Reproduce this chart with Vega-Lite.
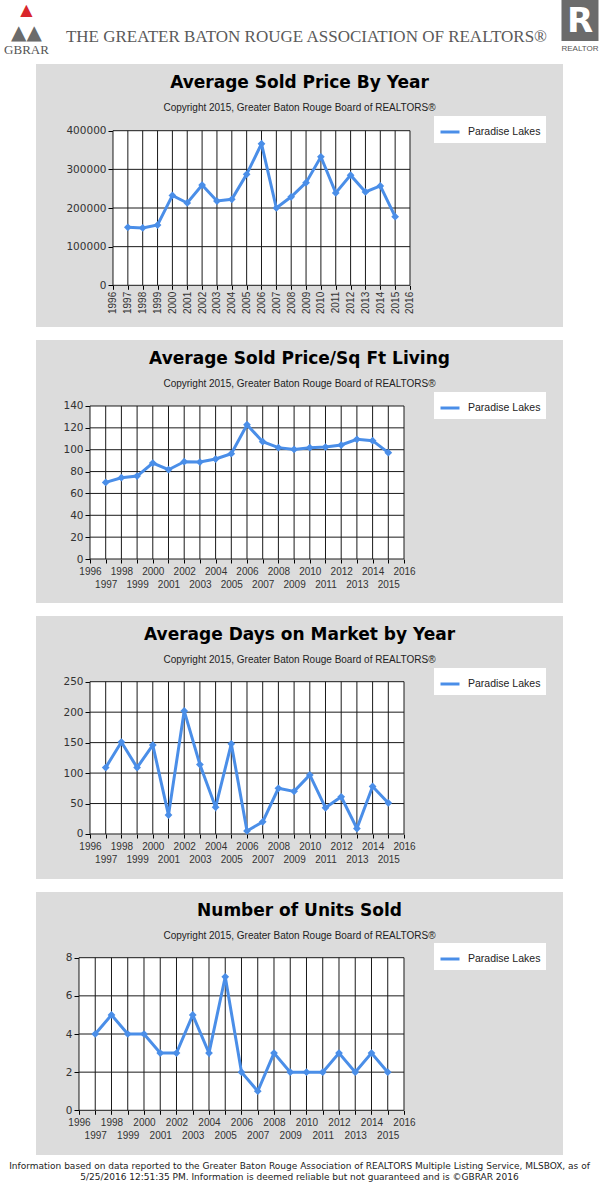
{
  "$schema": "https://vega.github.io/schema/vega-lite/v6.json",
  "padding": 0,
  "background": "#ffffff",
  "spacing": 7,
  "center": true,
  "datasets": {
    "years": [{"year":1996},{"year":1997},{"year":1998},{"year":1999},{"year":2000},{"year":2001},{"year":2002},{"year":2003},{"year":2004},{"year":2005},{"year":2006},{"year":2007},{"year":2008},{"year":2009},{"year":2010},{"year":2011},{"year":2012},{"year":2013},{"year":2014},{"year":2015},{"year":2016}],
    "price": [
      {"year":1997,"value":150000,"area":"Paradise Lakes"},{"year":1998,"value":148500,"area":"Paradise Lakes"},{"year":1999,"value":156000,"area":"Paradise Lakes"},{"year":2000,"value":232500,"area":"Paradise Lakes"},{"year":2001,"value":213000,"area":"Paradise Lakes"},{"year":2002,"value":259500,"area":"Paradise Lakes"},{"year":2003,"value":218000,"area":"Paradise Lakes"},{"year":2004,"value":222500,"area":"Paradise Lakes"},{"year":2005,"value":287000,"area":"Paradise Lakes"},{"year":2006,"value":366000,"area":"Paradise Lakes"},{"year":2007,"value":200000,"area":"Paradise Lakes"},{"year":2008,"value":229000,"area":"Paradise Lakes"},{"year":2009,"value":265500,"area":"Paradise Lakes"},{"year":2010,"value":332500,"area":"Paradise Lakes"},{"year":2011,"value":239000,"area":"Paradise Lakes"},{"year":2012,"value":285000,"area":"Paradise Lakes"},{"year":2013,"value":241500,"area":"Paradise Lakes"},{"year":2014,"value":257000,"area":"Paradise Lakes"},{"year":2015,"value":177500,"area":"Paradise Lakes"}],
    "ppsf": [
      {"year":1997,"value":70.1,"area":"Paradise Lakes"},{"year":1998,"value":74.4,"area":"Paradise Lakes"},{"year":1999,"value":75.9,"area":"Paradise Lakes"},{"year":2000,"value":87.8,"area":"Paradise Lakes"},{"year":2001,"value":81.7,"area":"Paradise Lakes"},{"year":2002,"value":89.0,"area":"Paradise Lakes"},{"year":2003,"value":88.7,"area":"Paradise Lakes"},{"year":2004,"value":91.5,"area":"Paradise Lakes"},{"year":2005,"value":96.4,"area":"Paradise Lakes"},{"year":2006,"value":122.9,"area":"Paradise Lakes"},{"year":2007,"value":107.3,"area":"Paradise Lakes"},{"year":2008,"value":101.9,"area":"Paradise Lakes"},{"year":2009,"value":100.3,"area":"Paradise Lakes"},{"year":2010,"value":101.9,"area":"Paradise Lakes"},{"year":2011,"value":102.4,"area":"Paradise Lakes"},{"year":2012,"value":104.3,"area":"Paradise Lakes"},{"year":2013,"value":109.5,"area":"Paradise Lakes"},{"year":2014,"value":108.3,"area":"Paradise Lakes"},{"year":2015,"value":97.3,"area":"Paradise Lakes"}],
    "dom": [
      {"year":1997,"value":109,"area":"Paradise Lakes"},{"year":1998,"value":151,"area":"Paradise Lakes"},{"year":1999,"value":109,"area":"Paradise Lakes"},{"year":2000,"value":146,"area":"Paradise Lakes"},{"year":2001,"value":31,"area":"Paradise Lakes"},{"year":2002,"value":202,"area":"Paradise Lakes"},{"year":2003,"value":114,"area":"Paradise Lakes"},{"year":2004,"value":44,"area":"Paradise Lakes"},{"year":2005,"value":148,"area":"Paradise Lakes"},{"year":2006,"value":5,"area":"Paradise Lakes"},{"year":2007,"value":20,"area":"Paradise Lakes"},{"year":2008,"value":75,"area":"Paradise Lakes"},{"year":2009,"value":70,"area":"Paradise Lakes"},{"year":2010,"value":97,"area":"Paradise Lakes"},{"year":2011,"value":43,"area":"Paradise Lakes"},{"year":2012,"value":61,"area":"Paradise Lakes"},{"year":2013,"value":9,"area":"Paradise Lakes"},{"year":2014,"value":78,"area":"Paradise Lakes"},{"year":2015,"value":51,"area":"Paradise Lakes"}],
    "units": [
      {"year":1997,"value":4,"area":"Paradise Lakes"},{"year":1998,"value":5,"area":"Paradise Lakes"},{"year":1999,"value":4,"area":"Paradise Lakes"},{"year":2000,"value":4,"area":"Paradise Lakes"},{"year":2001,"value":3,"area":"Paradise Lakes"},{"year":2002,"value":3,"area":"Paradise Lakes"},{"year":2003,"value":5,"area":"Paradise Lakes"},{"year":2004,"value":3,"area":"Paradise Lakes"},{"year":2005,"value":7,"area":"Paradise Lakes"},{"year":2006,"value":2,"area":"Paradise Lakes"},{"year":2007,"value":1,"area":"Paradise Lakes"},{"year":2008,"value":3,"area":"Paradise Lakes"},{"year":2009,"value":2,"area":"Paradise Lakes"},{"year":2010,"value":2,"area":"Paradise Lakes"},{"year":2011,"value":2,"area":"Paradise Lakes"},{"year":2012,"value":3,"area":"Paradise Lakes"},{"year":2013,"value":2,"area":"Paradise Lakes"},{"year":2014,"value":3,"area":"Paradise Lakes"},{"year":2015,"value":2,"area":"Paradise Lakes"}],
    "g_price": [{"v":0},{"v":100000},{"v":200000},{"v":300000},{"v":400000}],
    "g_ppsf": [{"v":0},{"v":20},{"v":40},{"v":60},{"v":80},{"v":100},{"v":120},{"v":140}],
    "g_dom": [{"v":0},{"v":50},{"v":100},{"v":150},{"v":200},{"v":250}],
    "g_units": [{"v":0},{"v":2},{"v":4},{"v":6},{"v":8}]
  },
  "vconcat": [
    {
      "hconcat": [
        {
          "width": 52, "height": 57,
          "layer": [
            {"data": {"values": [{"t": "▲"}]}, "mark": {"type": "text", "font": "DejaVu Sans", "fontSize": 16, "color": "#d9262b", "dy": -18.5}, "encoding": {"text": {"field": "t"}}},
            {"data": {"values": [{"t": "▲▲"}]}, "mark": {"type": "text", "font": "DejaVu Sans", "fontSize": 20, "color": "#6b6b6b", "dy": 4}, "encoding": {"text": {"field": "t"}}},
            {"data": {"values": [{"t": "GBRAR"}]}, "mark": {"type": "text", "font": "Liberation Serif", "fontSize": 13, "color": "#555555", "dy": 21.5}, "encoding": {"text": {"field": "t"}}}
          ]
        },
        {
          "width": 500, "height": 57,
          "data": {"values": [{"t": "THE GREATER BATON ROUGE ASSOCIATION OF REALTORS®"}]},
          "mark": {"type": "text", "font": "Liberation Serif", "fontSize": 17, "color": "#5a5a5a", "dy": 8},
          "encoding": {"text": {"field": "t"}}
        },
        {
          "width": 37, "height": 41,
          "view": {"fill": "#6b6b6b", "stroke": null},
          "title": {"text": "REALTOR", "orient": "bottom", "font": "Liberation Sans", "fontSize": 8, "fontWeight": "normal", "color": "#555555", "offset": 4},
          "data": {"values": [{"t": "R"}]},
          "mark": {"type": "text", "font": "DejaVu Sans", "fontWeight": "bold", "fontSize": 34, "color": "#ffffff", "dy": 1},
          "encoding": {"text": {"field": "t"}}
        }
      ],
      "spacing": 4
    },
    {
      "spacing": 13,
      "center": true,
      "resolve": {"scale": {"color": "independent"}, "legend": {"color": "independent"}},
      "vconcat": [
        {
          "width": 527, "height": 263,
          "view": {"fill": "#dcdcdc", "stroke": null},
          "title": {"text": "Average Sold Price By Year", "subtitle": "Copyright 2015, Greater Baton Rouge Board of REALTORS®"},
          "layer": [
            {"data": {"values": [{}]}, "mark": {"type": "rect", "fill": "#ffffff"},
             "encoding": {
               "x": {"datum": 1996, "type": "quantitative", "scale": {"domain": [1990.815, 2026.303], "nice": false, "zero": false},
                     "axis": {"title": null, "values": [1996,1997,1998,1999,2000,2001,2002,2003,2004,2005,2006,2007,2008,2009,2010,2011,2012,2013,2014,2015,2016], "format": "d", "labelAngle": 270, "offset": -41.7, "labelPadding": 2}},
               "x2": {"datum": 2016},
               "y": {"datum": 0, "type": "quantitative", "scale": {"domain": [-107890, 572573], "nice": false, "zero": false},
                     "axis": {"title": null, "values": [0,100000,200000,300000,400000], "format": "d", "offset": -77}},
               "y2": {"datum": 400000}
             }},
            {"data": {"name": "years"}, "mark": {"type": "rule", "color": "#1a1a1a", "strokeWidth": 1},
             "encoding": {
               "x": {"field": "year", "type": "quantitative", "scale": {"domain": [1990.815, 2026.303], "nice": false, "zero": false},
                     "axis": {"title": null, "values": [1996,1997,1998,1999,2000,2001,2002,2003,2004,2005,2006,2007,2008,2009,2010,2011,2012,2013,2014,2015,2016], "format": "d", "labelAngle": 270, "offset": -41.7, "labelPadding": 2}},
               "y": {"datum": 0, "type": "quantitative", "scale": {"domain": [-107890, 572573], "nice": false, "zero": false},
                     "axis": {"title": null, "values": [0,100000,200000,300000,400000], "format": "d", "offset": -77}},
               "y2": {"datum": 400000}
             }},
            {"data": {"name": "g_price"}, "mark": {"type": "rule", "color": "#1a1a1a", "strokeWidth": 1},
             "encoding": {
               "y": {"field": "v", "type": "quantitative", "scale": {"domain": [-107890, 572573], "nice": false, "zero": false},
                     "axis": {"title": null, "values": [0,100000,200000,300000,400000], "format": "d", "offset": -77}},
               "x": {"datum": 1996, "type": "quantitative", "scale": {"domain": [1990.815, 2026.303], "nice": false, "zero": false},
                     "axis": {"title": null, "values": [1996,1997,1998,1999,2000,2001,2002,2003,2004,2005,2006,2007,2008,2009,2010,2011,2012,2013,2014,2015,2016], "format": "d", "labelAngle": 270, "offset": -41.7, "labelPadding": 2}},
               "x2": {"datum": 2016}
             }},
            {"data": {"name": "price"}, "mark": {"type": "line", "strokeWidth": 3, "point": {"shape": "diamond", "size": 60, "filled": true}},
             "encoding": {
               "x": {"field": "year", "type": "quantitative", "scale": {"domain": [1990.815, 2026.303], "nice": false, "zero": false},
                     "axis": {"title": null, "values": [1996,1997,1998,1999,2000,2001,2002,2003,2004,2005,2006,2007,2008,2009,2010,2011,2012,2013,2014,2015,2016], "format": "d", "labelAngle": 270, "offset": -41.7, "labelPadding": 2}},
               "y": {"field": "value", "type": "quantitative", "scale": {"domain": [-107890, 572573], "nice": false, "zero": false},
                     "axis": {"title": null, "values": [0,100000,200000,300000,400000], "format": "d", "offset": -77}},
               "color": {"field": "area", "type": "nominal", "scale": {"range": ["#4a8ee8"]}, "legend": {"title": null, "legendX": 398, "legendY": 52}}
             }}
          ]
        },
        {
          "width": 527, "height": 263,
          "view": {"fill": "#dcdcdc", "stroke": null},
          "title": {"text": "Average Sold Price/Sq Ft Living", "subtitle": "Copyright 2015, Greater Baton Rouge Board of REALTORS®"},
          "layer": [
            {"data": {"values": [{}]}, "mark": {"type": "rect", "fill": "#ffffff"},
             "encoding": {
               "x": {"datum": 1996, "type": "quantitative", "scale": {"domain": [1992.561, 2026.127], "nice": false, "zero": false},
                     "axis": {"title": null, "values": [1996,1997,1998,1999,2000,2001,2002,2003,2004,2005,2006,2007,2008,2009,2010,2011,2012,2013,2014,2015,2016], "format": "d", "labelExpr": "datum.value % 2 == 1 ? ['', datum.label] : datum.label", "labelLineHeight": 13.3, "labelAngle": 0, "labelBaseline": "top", "offset": -44}},
               "x2": {"datum": 2016},
               "y": {"datum": 0, "type": "quantitative", "scale": {"domain": [-40.26, 200.39], "nice": false, "zero": false},
                     "axis": {"title": null, "values": [0,20,40,60,80,100,120,140], "format": "d", "offset": -54}},
               "y2": {"datum": 140}
             }},
            {"data": {"name": "years"}, "mark": {"type": "rule", "color": "#1a1a1a", "strokeWidth": 1},
             "encoding": {
               "x": {"field": "year", "type": "quantitative", "scale": {"domain": [1992.561, 2026.127], "nice": false, "zero": false},
                     "axis": {"title": null, "values": [1996,1997,1998,1999,2000,2001,2002,2003,2004,2005,2006,2007,2008,2009,2010,2011,2012,2013,2014,2015,2016], "format": "d", "labelExpr": "datum.value % 2 == 1 ? ['', datum.label] : datum.label", "labelLineHeight": 13.3, "labelAngle": 0, "labelBaseline": "top", "offset": -44}},
               "y": {"datum": 0, "type": "quantitative", "scale": {"domain": [-40.26, 200.39], "nice": false, "zero": false},
                     "axis": {"title": null, "values": [0,20,40,60,80,100,120,140], "format": "d", "offset": -54}},
               "y2": {"datum": 140}
             }},
            {"data": {"name": "g_ppsf"}, "mark": {"type": "rule", "color": "#1a1a1a", "strokeWidth": 1},
             "encoding": {
               "y": {"field": "v", "type": "quantitative", "scale": {"domain": [-40.26, 200.39], "nice": false, "zero": false},
                     "axis": {"title": null, "values": [0,20,40,60,80,100,120,140], "format": "d", "offset": -54}},
               "x": {"datum": 1996, "type": "quantitative", "scale": {"domain": [1992.561, 2026.127], "nice": false, "zero": false},
                     "axis": {"title": null, "values": [1996,1997,1998,1999,2000,2001,2002,2003,2004,2005,2006,2007,2008,2009,2010,2011,2012,2013,2014,2015,2016], "format": "d", "labelExpr": "datum.value % 2 == 1 ? ['', datum.label] : datum.label", "labelLineHeight": 13.3, "labelAngle": 0, "labelBaseline": "top", "offset": -44}},
               "x2": {"datum": 2016}
             }},
            {"data": {"name": "ppsf"}, "mark": {"type": "line", "strokeWidth": 3, "point": {"shape": "diamond", "size": 60, "filled": true}},
             "encoding": {
               "x": {"field": "year", "type": "quantitative", "scale": {"domain": [1992.561, 2026.127], "nice": false, "zero": false},
                     "axis": {"title": null, "values": [1996,1997,1998,1999,2000,2001,2002,2003,2004,2005,2006,2007,2008,2009,2010,2011,2012,2013,2014,2015,2016], "format": "d", "labelExpr": "datum.value % 2 == 1 ? ['', datum.label] : datum.label", "labelLineHeight": 13.3, "labelAngle": 0, "labelBaseline": "top", "offset": -44}},
               "y": {"field": "value", "type": "quantitative", "scale": {"domain": [-40.26, 200.39], "nice": false, "zero": false},
                     "axis": {"title": null, "values": [0,20,40,60,80,100,120,140], "format": "d", "offset": -54}},
               "color": {"field": "area", "type": "nominal", "scale": {"range": ["#4a8ee8"]}, "legend": {"title": null, "legendX": 398, "legendY": 52}}
             }}
          ]
        },
        {
          "width": 527, "height": 263,
          "view": {"fill": "#dcdcdc", "stroke": null},
          "title": {"text": "Average Days on Market by Year", "subtitle": "Copyright 2015, Greater Baton Rouge Board of REALTORS®"},
          "layer": [
            {"data": {"values": [{}]}, "mark": {"type": "rect", "fill": "#ffffff"},
             "encoding": {
               "x": {"datum": 1996, "type": "quantitative", "scale": {"domain": [1992.561, 2026.127], "nice": false, "zero": false},
                     "axis": {"title": null, "values": [1996,1997,1998,1999,2000,2001,2002,2003,2004,2005,2006,2007,2008,2009,2010,2011,2012,2013,2014,2015,2016], "format": "d", "labelExpr": "datum.value % 2 == 1 ? ['', datum.label] : datum.label", "labelLineHeight": 13.3, "labelAngle": 0, "labelBaseline": "top", "offset": -45}},
               "x2": {"datum": 2016},
               "y": {"datum": 0, "type": "quantitative", "scale": {"domain": [-73.87, 357.85], "nice": false, "zero": false},
                     "axis": {"title": null, "values": [0,50,100,150,200,250], "format": "d", "offset": -54}},
               "y2": {"datum": 250}
             }},
            {"data": {"name": "years"}, "mark": {"type": "rule", "color": "#1a1a1a", "strokeWidth": 1},
             "encoding": {
               "x": {"field": "year", "type": "quantitative", "scale": {"domain": [1992.561, 2026.127], "nice": false, "zero": false},
                     "axis": {"title": null, "values": [1996,1997,1998,1999,2000,2001,2002,2003,2004,2005,2006,2007,2008,2009,2010,2011,2012,2013,2014,2015,2016], "format": "d", "labelExpr": "datum.value % 2 == 1 ? ['', datum.label] : datum.label", "labelLineHeight": 13.3, "labelAngle": 0, "labelBaseline": "top", "offset": -45}},
               "y": {"datum": 0, "type": "quantitative", "scale": {"domain": [-73.87, 357.85], "nice": false, "zero": false},
                     "axis": {"title": null, "values": [0,50,100,150,200,250], "format": "d", "offset": -54}},
               "y2": {"datum": 250}
             }},
            {"data": {"name": "g_dom"}, "mark": {"type": "rule", "color": "#1a1a1a", "strokeWidth": 1},
             "encoding": {
               "y": {"field": "v", "type": "quantitative", "scale": {"domain": [-73.87, 357.85], "nice": false, "zero": false},
                     "axis": {"title": null, "values": [0,50,100,150,200,250], "format": "d", "offset": -54}},
               "x": {"datum": 1996, "type": "quantitative", "scale": {"domain": [1992.561, 2026.127], "nice": false, "zero": false},
                     "axis": {"title": null, "values": [1996,1997,1998,1999,2000,2001,2002,2003,2004,2005,2006,2007,2008,2009,2010,2011,2012,2013,2014,2015,2016], "format": "d", "labelExpr": "datum.value % 2 == 1 ? ['', datum.label] : datum.label", "labelLineHeight": 13.3, "labelAngle": 0, "labelBaseline": "top", "offset": -45}},
               "x2": {"datum": 2016}
             }},
            {"data": {"name": "dom"}, "mark": {"type": "line", "strokeWidth": 3, "point": {"shape": "diamond", "size": 60, "filled": true}},
             "encoding": {
               "x": {"field": "year", "type": "quantitative", "scale": {"domain": [1992.561, 2026.127], "nice": false, "zero": false},
                     "axis": {"title": null, "values": [1996,1997,1998,1999,2000,2001,2002,2003,2004,2005,2006,2007,2008,2009,2010,2011,2012,2013,2014,2015,2016], "format": "d", "labelExpr": "datum.value % 2 == 1 ? ['', datum.label] : datum.label", "labelLineHeight": 13.3, "labelAngle": 0, "labelBaseline": "top", "offset": -45}},
               "y": {"field": "value", "type": "quantitative", "scale": {"domain": [-73.87, 357.85], "nice": false, "zero": false},
                     "axis": {"title": null, "values": [0,50,100,150,200,250], "format": "d", "offset": -54}},
               "color": {"field": "area", "type": "nominal", "scale": {"range": ["#4a8ee8"]}, "legend": {"title": null, "legendX": 398, "legendY": 52}}
             }}
          ]
        },
        {
          "width": 527, "height": 263,
          "view": {"fill": "#dcdcdc", "stroke": null},
          "title": {"text": "Number of Units Sold", "subtitle": "Copyright 2015, Greater Baton Rouge Board of REALTORS®"},
          "layer": [
            {"data": {"values": [{}]}, "mark": {"type": "rect", "fill": "#ffffff"},
             "encoding": {
               "x": {"datum": 1996, "type": "quantitative", "scale": {"domain": [1993.354, 2025.785], "nice": false, "zero": false},
                     "axis": {"title": null, "values": [1996,1997,1998,1999,2000,2001,2002,2003,2004,2005,2006,2007,2008,2009,2010,2011,2012,2013,2014,2015,2016], "format": "d", "labelExpr": "datum.value % 2 == 1 ? ['', datum.label] : datum.label", "labelLineHeight": 13.3, "labelAngle": 0, "labelBaseline": "top", "offset": -44.7}},
               "x2": {"datum": 2016},
               "y": {"datum": 0, "type": "quantitative", "scale": {"domain": [-2.343, 11.444], "nice": false, "zero": false},
                     "axis": {"title": null, "values": [0,2,4,6,8], "format": "d", "offset": -43}},
               "y2": {"datum": 8}
             }},
            {"data": {"name": "years"}, "mark": {"type": "rule", "color": "#1a1a1a", "strokeWidth": 1},
             "encoding": {
               "x": {"field": "year", "type": "quantitative", "scale": {"domain": [1993.354, 2025.785], "nice": false, "zero": false},
                     "axis": {"title": null, "values": [1996,1997,1998,1999,2000,2001,2002,2003,2004,2005,2006,2007,2008,2009,2010,2011,2012,2013,2014,2015,2016], "format": "d", "labelExpr": "datum.value % 2 == 1 ? ['', datum.label] : datum.label", "labelLineHeight": 13.3, "labelAngle": 0, "labelBaseline": "top", "offset": -44.7}},
               "y": {"datum": 0, "type": "quantitative", "scale": {"domain": [-2.343, 11.444], "nice": false, "zero": false},
                     "axis": {"title": null, "values": [0,2,4,6,8], "format": "d", "offset": -43}},
               "y2": {"datum": 8}
             }},
            {"data": {"name": "g_units"}, "mark": {"type": "rule", "color": "#1a1a1a", "strokeWidth": 1},
             "encoding": {
               "y": {"field": "v", "type": "quantitative", "scale": {"domain": [-2.343, 11.444], "nice": false, "zero": false},
                     "axis": {"title": null, "values": [0,2,4,6,8], "format": "d", "offset": -43}},
               "x": {"datum": 1996, "type": "quantitative", "scale": {"domain": [1993.354, 2025.785], "nice": false, "zero": false},
                     "axis": {"title": null, "values": [1996,1997,1998,1999,2000,2001,2002,2003,2004,2005,2006,2007,2008,2009,2010,2011,2012,2013,2014,2015,2016], "format": "d", "labelExpr": "datum.value % 2 == 1 ? ['', datum.label] : datum.label", "labelLineHeight": 13.3, "labelAngle": 0, "labelBaseline": "top", "offset": -44.7}},
               "x2": {"datum": 2016}
             }},
            {"data": {"name": "units"}, "mark": {"type": "line", "strokeWidth": 3, "point": {"shape": "diamond", "size": 60, "filled": true}},
             "encoding": {
               "x": {"field": "year", "type": "quantitative", "scale": {"domain": [1993.354, 2025.785], "nice": false, "zero": false},
                     "axis": {"title": null, "values": [1996,1997,1998,1999,2000,2001,2002,2003,2004,2005,2006,2007,2008,2009,2010,2011,2012,2013,2014,2015,2016], "format": "d", "labelExpr": "datum.value % 2 == 1 ? ['', datum.label] : datum.label", "labelLineHeight": 13.3, "labelAngle": 0, "labelBaseline": "top", "offset": -44.7}},
               "y": {"field": "value", "type": "quantitative", "scale": {"domain": [-2.343, 11.444], "nice": false, "zero": false},
                     "axis": {"title": null, "values": [0,2,4,6,8], "format": "d", "offset": -43}},
               "color": {"field": "area", "type": "nominal", "scale": {"range": ["#4a8ee8"]}, "legend": {"title": null, "legendX": 398, "legendY": 51}}
             }}
          ]
        }
      ]
    },
    {
      "width": 597, "height": 8,
      "data": {"values": [{"t": "Information based on data reported to the Greater Baton Rouge Association of REALTORS Multiple Listing Service, MLSBOX, as of\n5/25/2016 12:51:35 PM. Information is deemed reliable but not guaranteed and is ©GBRAR 2016"}]},
      "mark": {"type": "text", "font": "DejaVu Sans", "fontSize": 9, "color": "#222222", "lineBreak": "\n", "lineHeight": 11},
      "encoding": {"text": {"field": "t"}}
    }
  ],
  "config": {
    "view": {"stroke": null},
    "axis": {"domain": false, "grid": false, "zindex": 1, "labelFont": "Liberation Sans", "labelColor": "#333333", "tickColor": "#000000", "labelOverlap": false, "labelFlush": false},
    "axisY": {"labelFont": "DejaVu Sans", "labelFontSize": 10.5, "labelPadding": 2, "tickSize": 5},
    "axisX": {"labelFontSize": 10, "tickSize": 4, "labelPadding": 3},
    "title": {"font": "DejaVu Sans", "fontSize": 17, "fontWeight": "bold", "color": "#000000", "anchor": "middle", "offset": -50, "subtitleFont": "Liberation Sans", "subtitleFontSize": 10, "subtitleColor": "#222222", "subtitlePadding": 11},
    "legend": {"orient": "none", "fillColor": "#ffffff", "padding": 5, "symbolType": "stroke", "symbolSize": 361, "symbolStrokeWidth": 3, "labelFont": "Liberation Sans", "labelFontSize": 10.5, "labelColor": "#222222", "labelOffset": 7}
  }
}
